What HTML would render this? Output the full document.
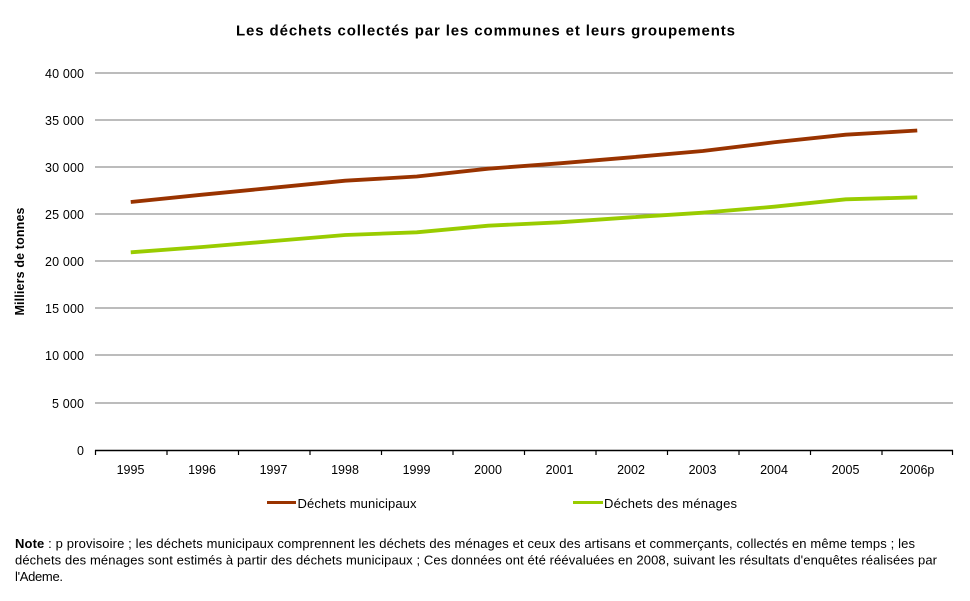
<!DOCTYPE html>
<html><head><meta charset="utf-8"><style>
html,body{margin:0;padding:0;background:#fff;}
svg{display:block;}
text{font-family:"Liberation Sans",Arial,sans-serif;fill:#000;}
</style></head><body>
<svg width="970" height="601" viewBox="0 0 970 601" xmlns="http://www.w3.org/2000/svg">
<rect width="970" height="601" fill="#fff"/>
<text x="485.5" y="35.5" font-size="15" font-weight="bold" text-anchor="middle" textLength="499" lengthAdjust="spacing">Les déchets collectés par les communes et leurs groupements</text>
<g stroke="#959595" stroke-width="1.3">
<line x1="95" y1="73" x2="953" y2="73"/>
<line x1="95" y1="120" x2="953" y2="120"/>
<line x1="95" y1="167" x2="953" y2="167"/>
<line x1="95" y1="214" x2="953" y2="214"/>
<line x1="95" y1="261" x2="953" y2="261"/>
<line x1="95" y1="308" x2="953" y2="308"/>
<line x1="95" y1="355" x2="953" y2="355"/>
<line x1="95" y1="403" x2="953" y2="403"/>
</g>
<g font-size="12.5" text-anchor="end">
<text x="84" y="78" textLength="39" lengthAdjust="spacing">40 000</text>
<text x="84" y="125" textLength="39" lengthAdjust="spacing">35 000</text>
<text x="84" y="172" textLength="39" lengthAdjust="spacing">30 000</text>
<text x="84" y="219" textLength="39" lengthAdjust="spacing">25 000</text>
<text x="84" y="266" textLength="39" lengthAdjust="spacing">20 000</text>
<text x="84" y="313" textLength="39" lengthAdjust="spacing">15 000</text>
<text x="84" y="360" textLength="39" lengthAdjust="spacing">10 000</text>
<text x="84" y="408" textLength="32" lengthAdjust="spacing">5 000</text>
<text x="84" y="455">0</text>
</g>
<line x1="95" y1="450.5" x2="953" y2="450.5" stroke="#000" stroke-width="1.6"/>
<g stroke="#000" stroke-width="1.2">
<line x1="95.5" y1="450" x2="95.5" y2="455"/>
<line x1="167" y1="450" x2="167" y2="455"/>
<line x1="238.5" y1="450" x2="238.5" y2="455"/>
<line x1="310" y1="450" x2="310" y2="455"/>
<line x1="381.5" y1="450" x2="381.5" y2="455"/>
<line x1="453" y1="450" x2="453" y2="455"/>
<line x1="524.5" y1="450" x2="524.5" y2="455"/>
<line x1="596" y1="450" x2="596" y2="455"/>
<line x1="667.5" y1="450" x2="667.5" y2="455"/>
<line x1="739" y1="450" x2="739" y2="455"/>
<line x1="810.5" y1="450" x2="810.5" y2="455"/>
<line x1="882" y1="450" x2="882" y2="455"/>
<line x1="952.5" y1="450" x2="952.5" y2="455"/>
</g>
<g font-size="12.5" text-anchor="middle">
<text x="130.5" y="474">1995</text>
<text x="202" y="474">1996</text>
<text x="273.5" y="474">1997</text>
<text x="345" y="474">1998</text>
<text x="416.5" y="474">1999</text>
<text x="488" y="474">2000</text>
<text x="559.5" y="474">2001</text>
<text x="631" y="474">2002</text>
<text x="702.5" y="474">2003</text>
<text x="774" y="474">2004</text>
<text x="845.5" y="474">2005</text>
<text x="917" y="474">2006p</text>
</g>
<text transform="translate(24,261.5) rotate(-90)" font-size="12.5" font-weight="bold" text-anchor="middle" textLength="108" lengthAdjust="spacing">Milliers de tonnes</text>
<polyline fill="none" stroke="#993300" stroke-width="3.8" stroke-linejoin="round" points="130.75,202 202.25,194.7 273.75,187.7 345.25,180.7 416.75,176.5 488.25,168.7 559.75,163.3 631.25,157.3 702.75,151 774.25,142.3 845.75,134.7 917.25,130.5"/>
<polyline fill="none" stroke="#99CC00" stroke-width="3.8" stroke-linejoin="round" points="130.75,252.3 202.25,247 273.75,241 345.25,235 416.75,232.3 488.25,225.7 559.75,222.3 631.25,217.3 702.75,212.7 774.25,206.7 845.75,199.3 917.25,197.3"/>
<line x1="267" y1="502.5" x2="296" y2="502.5" stroke="#993300" stroke-width="3"/>
<text x="297.5" y="508" font-size="13" textLength="119" lengthAdjust="spacing">Déchets municipaux</text>
<line x1="573" y1="502.5" x2="603" y2="502.5" stroke="#99CC00" stroke-width="3"/>
<text x="604" y="508" font-size="13" textLength="133" lengthAdjust="spacing">Déchets des ménages</text>
<text x="15" y="548" font-size="13" textLength="900" lengthAdjust="spacing"><tspan font-weight="bold">Note</tspan> : p provisoire ; les déchets municipaux comprennent les déchets des ménages et ceux des artisans et commerçants, collectés en même temps ; les</text>
<text x="15" y="564.5" font-size="13" textLength="922" lengthAdjust="spacing">déchets des ménages sont estimés à partir des déchets municipaux ; Ces données ont été réévaluées en 2008, suivant les résultats d'enquêtes réalisées par</text>
<text x="15" y="581" font-size="13" textLength="48" lengthAdjust="spacing">l'Ademe.</text>
</svg>
</body></html>
